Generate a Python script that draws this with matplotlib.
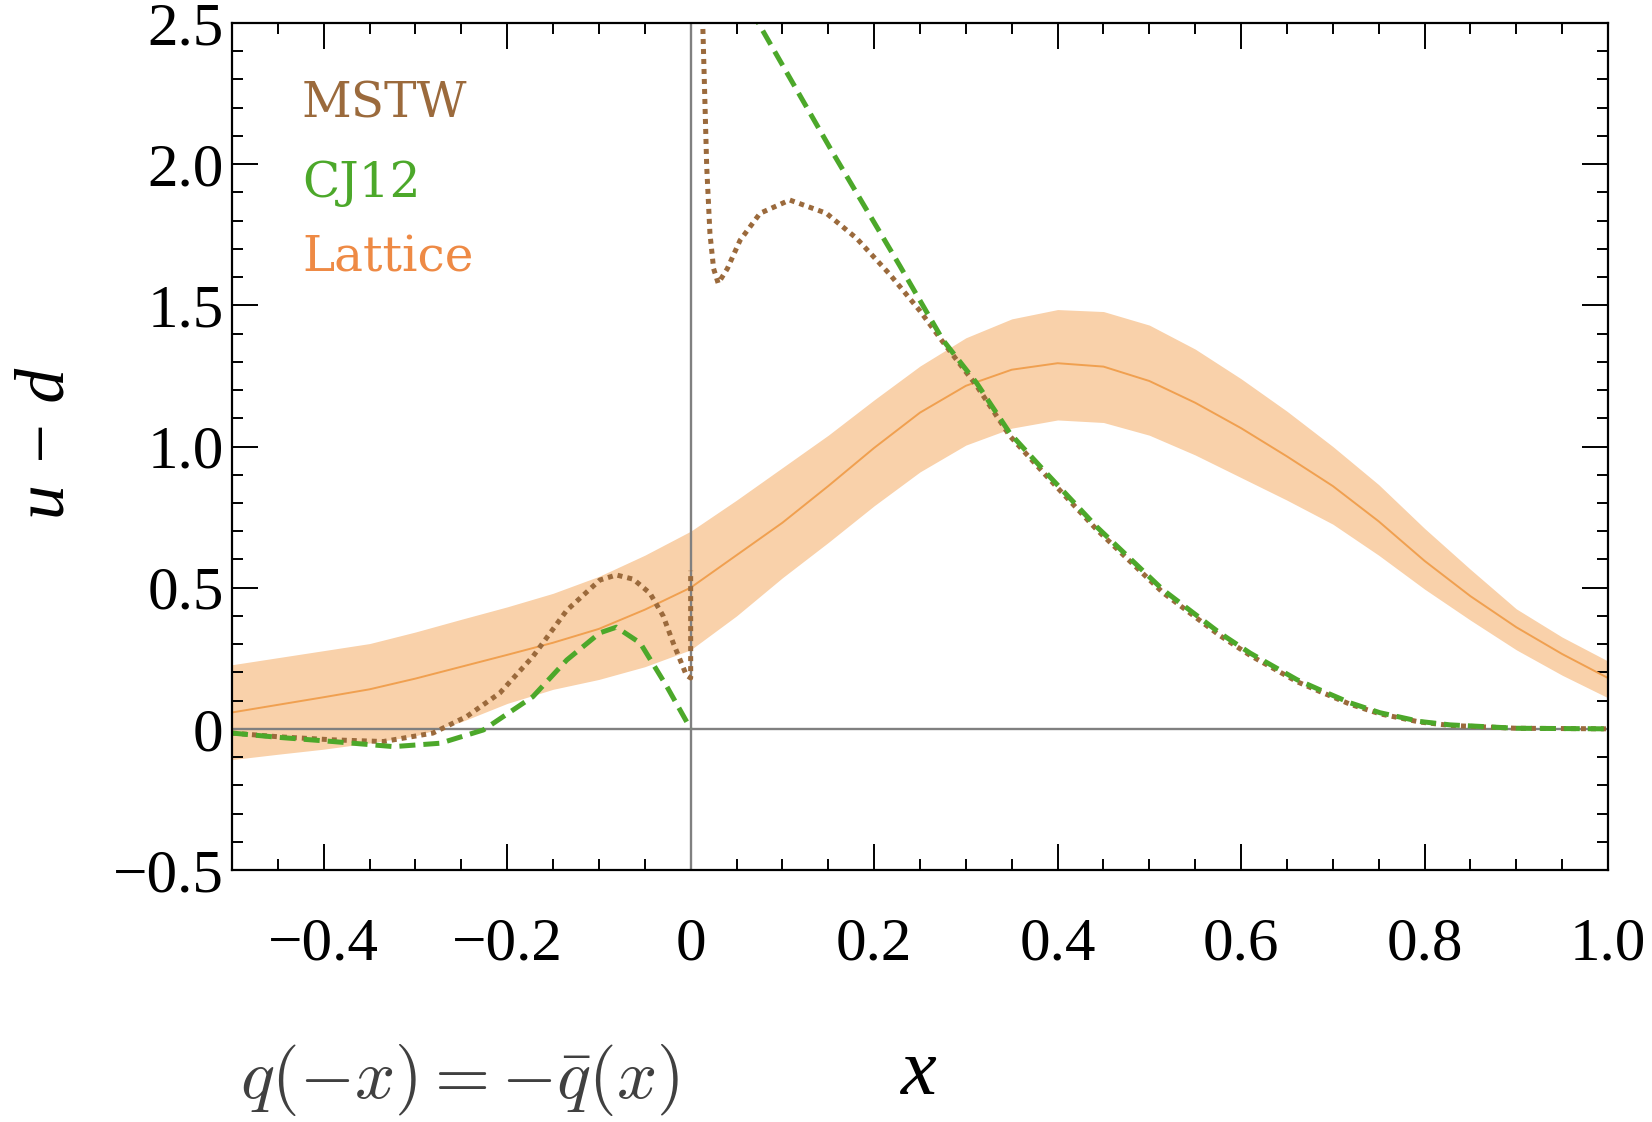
import matplotlib
matplotlib.use("Agg")
import matplotlib.pyplot as plt
from matplotlib.ticker import MultipleLocator, FixedLocator

# ---------------- data ----------------
lat_x = [-0.50, -0.45, -0.40, -0.35, -0.30, -0.25, -0.20, -0.15, -0.10, -0.05,
         0.00, 0.05, 0.10, 0.15, 0.20, 0.25, 0.30, 0.35, 0.40, 0.45,
         0.50, 0.55, 0.60, 0.65, 0.70, 0.75, 0.80, 0.85, 0.90, 0.95, 1.00]
lat_mid = [0.058, 0.085, 0.112, 0.140, 0.178, 0.220, 0.262, 0.305, 0.354, 0.422,
           0.500, 0.615, 0.730, 0.860, 0.995, 1.120, 1.215, 1.272, 1.295, 1.283,
           1.232, 1.155, 1.065, 0.965, 0.860, 0.735, 0.595, 0.470, 0.360, 0.265, 0.180]
lat_lo = [-0.109, -0.090, -0.072, -0.050, -0.025, 0.025, 0.090, 0.140, 0.175, 0.220,
          0.280, 0.400, 0.535, 0.660, 0.790, 0.910, 1.005, 1.065, 1.094, 1.085,
          1.040, 0.970, 0.890, 0.810, 0.725, 0.615, 0.495, 0.385, 0.280, 0.190, 0.110]
lat_hi = [0.227, 0.252, 0.277, 0.302, 0.343, 0.388, 0.432, 0.480, 0.540, 0.615,
          0.700, 0.810, 0.925, 1.040, 1.165, 1.285, 1.385, 1.452, 1.485, 1.478,
          1.430, 1.345, 1.240, 1.125, 1.000, 0.865, 0.710, 0.565, 0.425, 0.325, 0.240]

mstw_neg_x = [-0.50, -0.45, -0.39, -0.335, -0.281, -0.244, -0.208, -0.172, -0.135,
              -0.099, -0.081, -0.0625, -0.0443, -0.030, -0.019, -0.0047, 0.0, 0.0]
mstw_neg_y = [-0.015, -0.028, -0.039, -0.045, -0.015, 0.044, 0.127, 0.256, 0.420,
              0.527, 0.545, 0.530, 0.480, 0.400, 0.304, 0.190, 0.180, 0.560]
mstw_pos_x = [0.0110, 0.0175, 0.021, 0.025, 0.030, 0.040, 0.0538, 0.0756, 0.108,
              0.148, 0.181, 0.217, 0.250, 0.275, 0.3117, 0.348, 0.388, 0.4425,
              0.515, 0.577, 0.610, 0.661, 0.686, 0.719, 0.7515, 0.795, 0.828, 0.90, 1.00]
mstw_pos_y = [2.75, 1.99, 1.755, 1.63, 1.578, 1.63, 1.73, 1.826, 1.873,
              1.826, 1.737, 1.61, 1.48, 1.370, 1.215, 1.037, 0.895, 0.706,
              0.482, 0.330, 0.260, 0.167, 0.132, 0.087, 0.053, 0.024, 0.012, 0.002, 0.0]

cj_neg_x = [-0.50, -0.45, -0.39, -0.324, -0.273, -0.226, -0.172, -0.135, -0.099,
            -0.081, -0.055, -0.026, 0.0]
cj_neg_y = [-0.015, -0.030, -0.045, -0.063, -0.051, -0.004, 0.114, 0.244, 0.340,
            0.360, 0.304, 0.150, 0.0]
cj_pos_x = [0.068, 0.072, 0.155, 0.228, 0.275, 0.3117, 0.348, 0.388, 0.4425, 0.515,
            0.577, 0.610, 0.661, 0.686, 0.719, 0.7515, 0.795, 0.828, 0.90, 1.00]
cj_pos_y = [2.55, 2.51, 2.04, 1.64, 1.377, 1.225, 1.047, 0.905, 0.716, 0.492,
            0.339, 0.268, 0.174, 0.138, 0.092, 0.057, 0.026, 0.014, 0.002, 0.0]

x_ticks = [-0.4, -0.2, 0.0, 0.2, 0.4, 0.6, 0.8, 1.0]
x_ticklabels = ["\u22120.4", "\u22120.2", "0", "0.2", "0.4", "0.6", "0.8", "1.0"]
y_ticks = [-0.5, 0.0, 0.5, 1.0, 1.5, 2.0, 2.5]
y_ticklabels = ["\u22120.5", "0", "0.5", "1.0", "1.5", "2.0", "2.5"]
legend_names = ["MSTW", "CJ12", "Lattice"]

# ---------------- style ----------------
c_mstw = "#9B6A3C"
c_cj = "#4CA82A"
c_lat_line = "#F0A050"
c_lat_band = "#F9D1AA"
c_lat_text = "#EE8A45"

W, H = 1652, 1122
fig = plt.figure(figsize=(W / 100, H / 100), dpi=100)
ax = fig.add_axes([232 / W, 1 - 870 / H, 1376 / W, 847 / H])

ax.fill_between(lat_x, lat_lo, lat_hi, color=c_lat_band, lw=0, zorder=1)
ax.plot(lat_x, lat_mid, color=c_lat_line, lw=1.4, zorder=2)

ax.axvline(0, color="#808080", lw=1.7, zorder=3)
ax.axhline(0, color="#808080", lw=1.7, zorder=3)

ax.plot(mstw_neg_x, mstw_neg_y, color=c_mstw, lw=3.6, ls=(0, (1.0, 1.0)),
        dash_capstyle="butt", zorder=4)
ax.plot(mstw_pos_x, mstw_pos_y, color=c_mstw, lw=3.6, ls=(0, (1.0, 1.0)),
        dash_capstyle="butt", zorder=4)
ax.plot(cj_neg_x, cj_neg_y, color=c_cj, lw=3.6, ls=(0, (3.2, 1.6)),
        dash_capstyle="butt", zorder=5)
ax.plot(cj_pos_x, cj_pos_y, color=c_cj, lw=3.6, ls=(0, (3.2, 1.6)),
        dash_capstyle="butt", zorder=5)

ax.set_xlim(-0.5, 1.0)
ax.set_ylim(-0.5, 2.5)

ax.xaxis.set_major_locator(FixedLocator(x_ticks))
ax.xaxis.set_minor_locator(MultipleLocator(0.05))
ax.yaxis.set_major_locator(FixedLocator(y_ticks))
ax.yaxis.set_minor_locator(MultipleLocator(0.1))
ax.set_xticklabels(x_ticklabels)
ax.set_yticklabels(y_ticklabels)

ax.tick_params(which="both", direction="in", top=True, right=True,
               width=1.4, color="black")
ax.tick_params(which="major", length=19)
ax.tick_params(which="minor", length=8)
ax.tick_params(axis="x", which="major", pad=34)
ax.tick_params(axis="y", which="major", pad=6)
for lab in ax.get_xticklabels() + ax.get_yticklabels():
    lab.set_fontfamily("Liberation Serif")
    lab.set_fontsize(44)
for sp in ax.spines.values():
    sp.set_linewidth(1.6)
    sp.set_color("black")
    sp.set_zorder(6)

# legend-like labels
leg_colors = [c_mstw, c_cj, c_lat_text]
leg_base = [118, 197, 271]
for name, col, yb in zip(legend_names, leg_colors, leg_base):
    fig.text(302 / W, 1 - yb / H, name, color=col, fontsize=35,
             family="DejaVu Serif", ha="left", va="baseline")

# axis labels
fig.text(47 / W, 1 - 443 / H, "u \u2212 d", rotation=90, fontsize=50,
         family="Liberation Serif", style="italic", ha="center", va="center")
fig.text(919 / W, 1 - 1075 / H, "x", fontsize=58, family="Liberation Serif",
         style="italic", ha="center", va="center")

plt.rcParams["mathtext.fontset"] = "cm"
fig.text(240 / W, 1 - 1080 / H, r"$q(-x) = -\bar{q}(x)$", fontsize=51,
         color="#404040", ha="left", va="center")

fig.savefig("out.png", dpi=100)
